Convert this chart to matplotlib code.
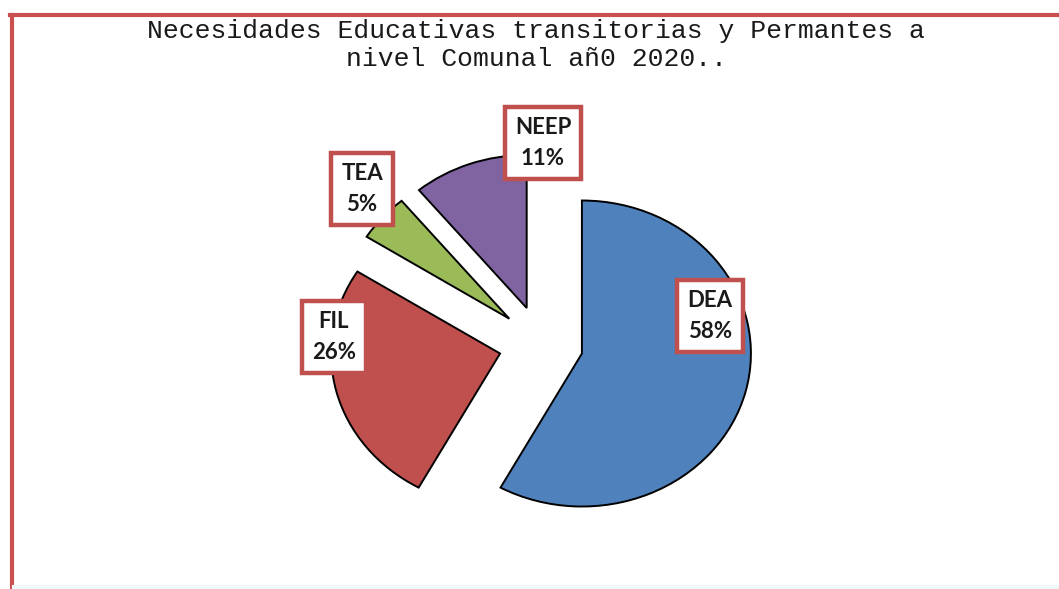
import matplotlib.pyplot as plt
from matplotlib.lines import Line2D

# data
categorias = ["DEA", "FIL", "TEA", "NEEP"]
porcentajes = [58, 26, 5, 11]
colores = ["#4F81BD", "#C0504D", "#9BBB59", "#8064A2"]
titulo = "Necesidades Educativas transitorias y Permantes a\nnivel Comunal añ0 2020.."

W, H = 1059, 589
fig = plt.figure(figsize=(W / 100, H / 100), dpi=100)
fig.patch.set_facecolor("white")

# axes placed so one data unit = 169 px wide, 153 px tall (stretched pie)
cx, cy = 541, 344
rx, ry = 169, 153
xl, yl = 2.0, 1.5
ax = fig.add_axes([(cx - xl * rx) / W, 1 - (cy + yl * ry) / H,
                   2 * xl * rx / W, 2 * yl * ry / H])

wedges, _ = ax.pie(porcentajes, colors=colores, startangle=90, counterclock=False,
                   explode=[0.25] * 4, radius=1.0,
                   wedgeprops=dict(edgecolor="black", linewidth=1.4))
ax.set_aspect("auto")
ax.set_xlim(-xl, xl)
ax.set_ylim(-yl, yl)
ax.axis("off")

# label boxes (pixel centres)
pos_etiquetas = {"DEA": (710, 316), "FIL": (334, 337), "TEA": (362, 189), "NEEP": (543, 143)}
for cat, p in zip(categorias, porcentajes):
    px, py = pos_etiquetas[cat]
    fig.text(px / W, 1 - py / H, f"{cat}\n{p}%", ha="center", va="center",
             fontsize=16, fontweight="bold", family="Lato", color="#1a1a1a",
             linespacing=1.6,
             bbox=dict(boxstyle="square,pad=0.45", facecolor="white",
                       edgecolor="#C0504D", linewidth=3.2))

fig.text(536 / W, 1 - 45 / H, titulo, ha="center", va="center",
         fontsize=19, family="Liberation Mono", color="#1a1a1a", linespacing=1.2)

# red frame on top and left edge, faint strip at the bottom
rojo = "#C9504F"
fig.add_artist(Line2D([10 / W, 1], [1 - 15 / H, 1 - 15 / H], color=rojo, lw=3))
fig.add_artist(Line2D([12 / W, 12 / W], [0, 1 - 15 / H], color=rojo, lw=3))
fig.add_artist(Line2D([14 / W, 1], [2 / H, 2 / H], color="#EEF8F8", lw=3))

fig.savefig("out.png", dpi=100, facecolor="white")
